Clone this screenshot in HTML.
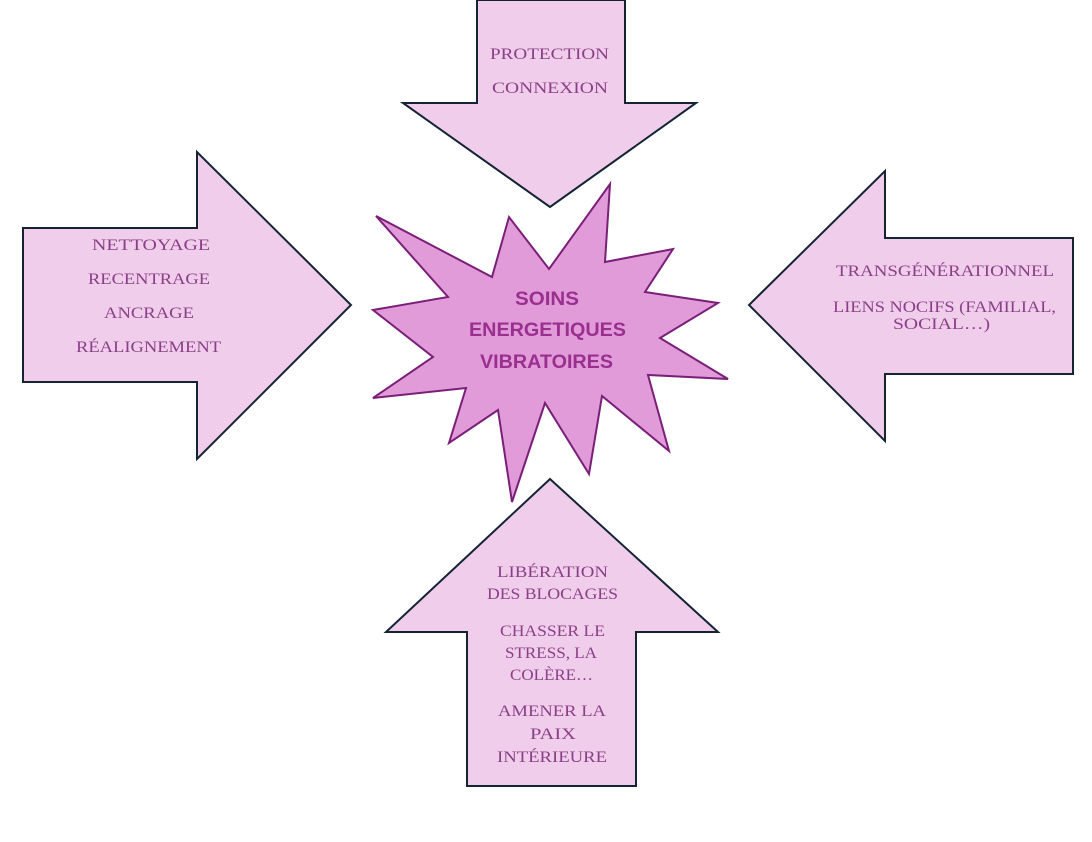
<!DOCTYPE html>
<html><head><meta charset="utf-8"><style>html,body{margin:0;padding:0;background:#fff}</style></head>
<body>
<svg width="1092" height="837" viewBox="0 0 1092 837" xmlns="http://www.w3.org/2000/svg">
<g fill="#f0cdea" stroke="#142433" stroke-width="2" stroke-linejoin="miter">
<polygon points="477,0 625,0 625,103 696,103 550,207 403,103 477,103"/>
<polygon points="23,228 197,228 197,152 351,305 197,459 197,382 23,382"/>
<polygon points="1073,238 885,238 885,171 749,305 885,441 885,374 1073,374"/>
<polygon points="467,786 636,786 636,632 718,632 550,479 386,632 467,632"/>
</g>
<polygon fill="#e19bd9" stroke="#7a1f78" stroke-width="2" points="376,216 492,277 509,217 549,269 610,184 605,262 673,249 645,292 718,303 660,338 728,379 648,375 669,451 602,396 589,474 545,403 512,502 498,410 449,443 466,388 373,398 433,357 373,310 448,297"/>
<g font-family="Liberation Serif, serif" font-size="16" fill="#8a3f88" text-anchor="middle" lengthAdjust="spacingAndGlyphs">
<text x="151" y="250" textLength="118" lengthAdjust="spacingAndGlyphs">NETTOYAGE</text>
<text x="149" y="284" textLength="122" lengthAdjust="spacingAndGlyphs">RECENTRAGE</text>
<text x="149" y="318" textLength="90" lengthAdjust="spacingAndGlyphs">ANCRAGE</text>
<text x="148.5" y="352" textLength="145" lengthAdjust="spacingAndGlyphs">RÉALIGNEMENT</text>
<text x="549.5" y="59" textLength="119" lengthAdjust="spacingAndGlyphs">PROTECTION</text>
<text x="550" y="93" textLength="116" lengthAdjust="spacingAndGlyphs">CONNEXION</text>
<text x="945" y="276" textLength="218" lengthAdjust="spacingAndGlyphs">TRANSGÉNÉRATIONNEL</text>
<text x="944.5" y="312" textLength="223" lengthAdjust="spacingAndGlyphs">LIENS NOCIFS (FAMILIAL,</text>
<text x="941.5" y="329" textLength="97" lengthAdjust="spacingAndGlyphs">SOCIAL…)</text>
<text x="552.5" y="577" textLength="111" lengthAdjust="spacingAndGlyphs">LIBÉRATION</text>
<text x="552.5" y="599" textLength="131" lengthAdjust="spacingAndGlyphs">DES BLOCAGES</text>
<text x="552.5" y="636" textLength="105" lengthAdjust="spacingAndGlyphs">CHASSER LE</text>
<text x="551" y="658" textLength="92" lengthAdjust="spacingAndGlyphs">STRESS, LA</text>
<text x="551.5" y="680" textLength="83" lengthAdjust="spacingAndGlyphs">COLÈRE…</text>
<text x="552" y="716" textLength="108" lengthAdjust="spacingAndGlyphs">AMENER LA</text>
<text x="553" y="739" textLength="46" lengthAdjust="spacingAndGlyphs">PAIX</text>
<text x="552" y="762" textLength="110" lengthAdjust="spacingAndGlyphs">INTÉRIEURE</text>
</g>
<g font-family="Liberation Sans, sans-serif" font-weight="bold" font-size="19" fill="#9a2f90" text-anchor="middle">
<text x="547" y="305" textLength="64" lengthAdjust="spacingAndGlyphs">SOINS</text>
<text x="547.5" y="336" textLength="157" lengthAdjust="spacingAndGlyphs">ENERGETIQUES</text>
<text x="546.5" y="368" textLength="133" lengthAdjust="spacingAndGlyphs">VIBRATOIRES</text>
</g>
</svg>
</body></html>
